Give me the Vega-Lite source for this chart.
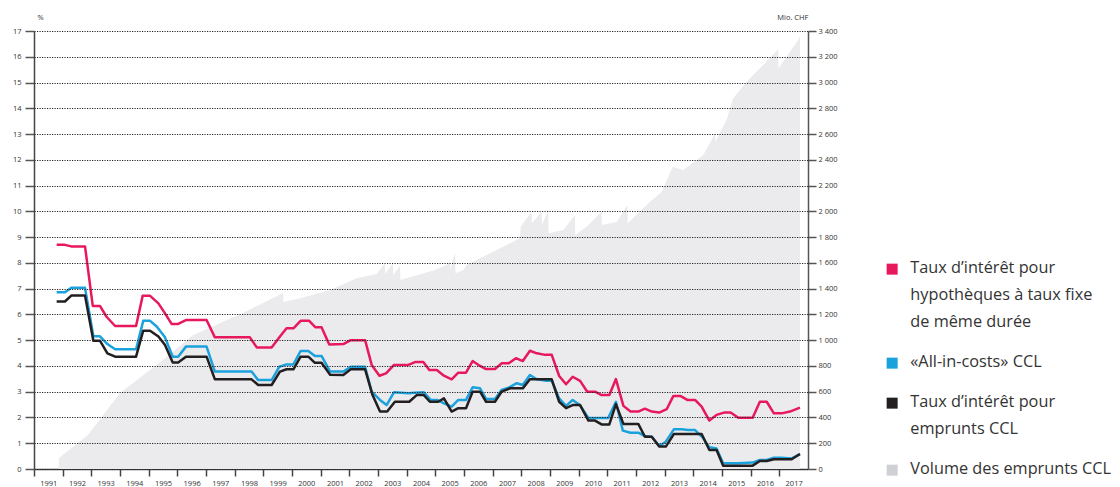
{
  "$schema": "https://vega.github.io/schema/vega-lite/v6.json",
  "width": 774,
  "height": 438,
  "autosize": {"type": "none"},
  "padding": {"left": 34, "top": 31, "right": 312, "bottom": 18},
  "background": "white",
  "config": {
    "view": {"stroke": null},
    "font": "Open Sans",
    "style": {"guide-label": {"lineHeight": 27}}
  },
  "datasets": {
    "vol": [
      {"t": 1991.87, "v": 85}, {"t": 1992.88, "v": 264}, {"t": 1994.0, "v": 590}, {"t": 1995.5, "v": 846},
      {"t": 1996.55, "v": 1040}, {"t": 1998.29, "v": 1211}, {"t": 1999.69, "v": 1366}, {"t": 1999.7, "v": 1297},
      {"t": 2000.28, "v": 1325}, {"t": 2001.33, "v": 1390}, {"t": 2002.26, "v": 1480}, {"t": 2002.95, "v": 1514},
      {"t": 2003.24, "v": 1597}, {"t": 2003.25, "v": 1514}, {"t": 2003.52, "v": 1597}, {"t": 2003.53, "v": 1506},
      {"t": 2003.77, "v": 1576}, {"t": 2003.78, "v": 1467}, {"t": 2004.93, "v": 1540}, {"t": 2005.4, "v": 1584},
      {"t": 2005.51, "v": 1610}, {"t": 2005.52, "v": 1550}, {"t": 2005.69, "v": 1679}, {"t": 2005.7, "v": 1519},
      {"t": 2005.98, "v": 1545}, {"t": 2006.09, "v": 1584}, {"t": 2007.26, "v": 1714}, {"t": 2007.95, "v": 1791},
      {"t": 2007.98, "v": 1881}, {"t": 2008.36, "v": 1998}, {"t": 2008.37, "v": 1908}, {"t": 2008.71, "v": 1998},
      {"t": 2008.72, "v": 1894}, {"t": 2008.94, "v": 2011}, {"t": 2008.95, "v": 1830}, {"t": 2009.47, "v": 1856},
      {"t": 2009.87, "v": 1972}, {"t": 2009.88, "v": 1817}, {"t": 2010.28, "v": 1881}, {"t": 2010.8, "v": 1998},
      {"t": 2010.81, "v": 1894}, {"t": 2011.33, "v": 1920}, {"t": 2011.7, "v": 2050}, {"t": 2011.71, "v": 1908},
      {"t": 2012.49, "v": 2075}, {"t": 2012.9, "v": 2153}, {"t": 2013.28, "v": 2347}, {"t": 2013.65, "v": 2321},
      {"t": 2014.35, "v": 2438}, {"t": 2014.76, "v": 2606}, {"t": 2014.77, "v": 2541}, {"t": 2015.16, "v": 2710},
      {"t": 2015.39, "v": 2878}, {"t": 2015.86, "v": 3007}, {"t": 2016.32, "v": 3111}, {"t": 2016.96, "v": 3258},
      {"t": 2016.97, "v": 3111}, {"t": 2017.66, "v": 3331}, {"t": 2017.72, "v": 3360}
    ],
    "lines": [
      {"s": "hyp", "t": 1991.79, "v": 8.70}, {"s": "hyp", "t": 1992.08, "v": 8.70}, {"s": "hyp", "t": 1992.3, "v": 8.64}, {"s": "hyp", "t": 1992.78, "v": 8.64},
      {"s": "hyp", "t": 1993.05, "v": 6.33}, {"s": "hyp", "t": 1993.3, "v": 6.33}, {"s": "hyp", "t": 1993.53, "v": 5.91}, {"s": "hyp", "t": 1993.83, "v": 5.55},
      {"s": "hyp", "t": 1994.56, "v": 5.55}, {"s": "hyp", "t": 1994.79, "v": 6.72}, {"s": "hyp", "t": 1995.05, "v": 6.72}, {"s": "hyp", "t": 1995.34, "v": 6.43},
      {"s": "hyp", "t": 1995.57, "v": 6.04}, {"s": "hyp", "t": 1995.8, "v": 5.63}, {"s": "hyp", "t": 1996.03, "v": 5.63}, {"s": "hyp", "t": 1996.3, "v": 5.78},
      {"s": "hyp", "t": 1997.02, "v": 5.78}, {"s": "hyp", "t": 1997.31, "v": 5.11}, {"s": "hyp", "t": 1998.53, "v": 5.11}, {"s": "hyp", "t": 1998.77, "v": 4.72},
      {"s": "hyp", "t": 1999.29, "v": 4.72}, {"s": "hyp", "t": 1999.56, "v": 5.11}, {"s": "hyp", "t": 1999.81, "v": 5.46}, {"s": "hyp", "t": 2000.05, "v": 5.46},
      {"s": "hyp", "t": 2000.3, "v": 5.75}, {"s": "hyp", "t": 2000.6, "v": 5.75}, {"s": "hyp", "t": 2000.82, "v": 5.50}, {"s": "hyp", "t": 2001.03, "v": 5.50},
      {"s": "hyp", "t": 2001.3, "v": 4.83}, {"s": "hyp", "t": 2001.79, "v": 4.85}, {"s": "hyp", "t": 2002.05, "v": 5.0}, {"s": "hyp", "t": 2002.55, "v": 5.0},
      {"s": "hyp", "t": 2002.78, "v": 4.04}, {"s": "hyp", "t": 2003.05, "v": 3.62}, {"s": "hyp", "t": 2003.28, "v": 3.71}, {"s": "hyp", "t": 2003.56, "v": 4.04},
      {"s": "hyp", "t": 2004.06, "v": 4.04}, {"s": "hyp", "t": 2004.29, "v": 4.15}, {"s": "hyp", "t": 2004.58, "v": 4.15}, {"s": "hyp", "t": 2004.79, "v": 3.84},
      {"s": "hyp", "t": 2005.05, "v": 3.84}, {"s": "hyp", "t": 2005.3, "v": 3.62}, {"s": "hyp", "t": 2005.57, "v": 3.48}, {"s": "hyp", "t": 2005.8, "v": 3.74},
      {"s": "hyp", "t": 2006.07, "v": 3.74}, {"s": "hyp", "t": 2006.3, "v": 4.19}, {"s": "hyp", "t": 2006.56, "v": 4.0}, {"s": "hyp", "t": 2006.77, "v": 3.88},
      {"s": "hyp", "t": 2007.08, "v": 3.88}, {"s": "hyp", "t": 2007.31, "v": 4.10}, {"s": "hyp", "t": 2007.55, "v": 4.10}, {"s": "hyp", "t": 2007.81, "v": 4.30},
      {"s": "hyp", "t": 2008.05, "v": 4.19}, {"s": "hyp", "t": 2008.3, "v": 4.59}, {"s": "hyp", "t": 2008.54, "v": 4.49}, {"s": "hyp", "t": 2008.83, "v": 4.43},
      {"s": "hyp", "t": 2009.06, "v": 4.43}, {"s": "hyp", "t": 2009.32, "v": 3.61}, {"s": "hyp", "t": 2009.56, "v": 3.29}, {"s": "hyp", "t": 2009.79, "v": 3.58},
      {"s": "hyp", "t": 2010.05, "v": 3.42}, {"s": "hyp", "t": 2010.3, "v": 3.0}, {"s": "hyp", "t": 2010.57, "v": 3.0}, {"s": "hyp", "t": 2010.8, "v": 2.87},
      {"s": "hyp", "t": 2011.07, "v": 2.87}, {"s": "hyp", "t": 2011.3, "v": 3.49}, {"s": "hyp", "t": 2011.56, "v": 2.45}, {"s": "hyp", "t": 2011.81, "v": 2.23},
      {"s": "hyp", "t": 2012.08, "v": 2.23}, {"s": "hyp", "t": 2012.31, "v": 2.34}, {"s": "hyp", "t": 2012.55, "v": 2.23}, {"s": "hyp", "t": 2012.81, "v": 2.19},
      {"s": "hyp", "t": 2013.07, "v": 2.32}, {"s": "hyp", "t": 2013.3, "v": 2.83}, {"s": "hyp", "t": 2013.56, "v": 2.83}, {"s": "hyp", "t": 2013.79, "v": 2.68},
      {"s": "hyp", "t": 2014.06, "v": 2.68}, {"s": "hyp", "t": 2014.29, "v": 2.42}, {"s": "hyp", "t": 2014.56, "v": 1.88}, {"s": "hyp", "t": 2014.81, "v": 2.10},
      {"s": "hyp", "t": 2015.07, "v": 2.19}, {"s": "hyp", "t": 2015.3, "v": 2.19}, {"s": "hyp", "t": 2015.57, "v": 1.99}, {"s": "hyp", "t": 2016.07, "v": 1.99},
      {"s": "hyp", "t": 2016.32, "v": 2.61}, {"s": "hyp", "t": 2016.56, "v": 2.61}, {"s": "hyp", "t": 2016.81, "v": 2.16}, {"s": "hyp", "t": 2017.08, "v": 2.16},
      {"s": "hyp", "t": 2017.37, "v": 2.23}, {"s": "hyp", "t": 2017.72, "v": 2.38},

      {"s": "aic", "t": 1991.79, "v": 6.86}, {"s": "aic", "t": 1992.08, "v": 6.86}, {"s": "aic", "t": 1992.3, "v": 7.03}, {"s": "aic", "t": 1992.78, "v": 7.03},
      {"s": "aic", "t": 1993.07, "v": 5.15}, {"s": "aic", "t": 1993.3, "v": 5.15}, {"s": "aic", "t": 1993.56, "v": 4.85}, {"s": "aic", "t": 1993.83, "v": 4.65},
      {"s": "aic", "t": 1994.56, "v": 4.65}, {"s": "aic", "t": 1994.81, "v": 5.75}, {"s": "aic", "t": 1995.05, "v": 5.75}, {"s": "aic", "t": 1995.28, "v": 5.53},
      {"s": "aic", "t": 1995.57, "v": 5.11}, {"s": "aic", "t": 1995.84, "v": 4.36}, {"s": "aic", "t": 1996.03, "v": 4.36}, {"s": "aic", "t": 1996.3, "v": 4.75},
      {"s": "aic", "t": 1997.02, "v": 4.75}, {"s": "aic", "t": 1997.31, "v": 3.78}, {"s": "aic", "t": 1998.59, "v": 3.78}, {"s": "aic", "t": 1998.82, "v": 3.45},
      {"s": "aic", "t": 1999.29, "v": 3.45}, {"s": "aic", "t": 1999.56, "v": 3.97}, {"s": "aic", "t": 1999.81, "v": 4.06}, {"s": "aic", "t": 2000.05, "v": 4.06},
      {"s": "aic", "t": 2000.3, "v": 4.58}, {"s": "aic", "t": 2000.57, "v": 4.58}, {"s": "aic", "t": 2000.8, "v": 4.39}, {"s": "aic", "t": 2001.03, "v": 4.39},
      {"s": "aic", "t": 2001.33, "v": 3.78}, {"s": "aic", "t": 2001.79, "v": 3.78}, {"s": "aic", "t": 2002.05, "v": 3.97}, {"s": "aic", "t": 2002.55, "v": 3.97},
      {"s": "aic", "t": 2002.78, "v": 3.0}, {"s": "aic", "t": 2003.07, "v": 2.68}, {"s": "aic", "t": 2003.3, "v": 2.48}, {"s": "aic", "t": 2003.56, "v": 2.98},
      {"s": "aic", "t": 2004.06, "v": 2.94}, {"s": "aic", "t": 2004.29, "v": 2.96}, {"s": "aic", "t": 2004.6, "v": 2.98}, {"s": "aic", "t": 2004.84, "v": 2.68},
      {"s": "aic", "t": 2005.07, "v": 2.68}, {"s": "aic", "t": 2005.3, "v": 2.55}, {"s": "aic", "t": 2005.57, "v": 2.42}, {"s": "aic", "t": 2005.8, "v": 2.68},
      {"s": "aic", "t": 2006.07, "v": 2.68}, {"s": "aic", "t": 2006.3, "v": 3.17}, {"s": "aic", "t": 2006.56, "v": 3.13}, {"s": "aic", "t": 2006.77, "v": 2.72},
      {"s": "aic", "t": 2007.08, "v": 2.72}, {"s": "aic", "t": 2007.31, "v": 3.07}, {"s": "aic", "t": 2007.58, "v": 3.17}, {"s": "aic", "t": 2007.84, "v": 3.33},
      {"s": "aic", "t": 2008.05, "v": 3.26}, {"s": "aic", "t": 2008.3, "v": 3.65}, {"s": "aic", "t": 2008.54, "v": 3.48}, {"s": "aic", "t": 2008.83, "v": 3.43},
      {"s": "aic", "t": 2009.06, "v": 3.43}, {"s": "aic", "t": 2009.32, "v": 2.74}, {"s": "aic", "t": 2009.56, "v": 2.45}, {"s": "aic", "t": 2009.79, "v": 2.68},
      {"s": "aic", "t": 2010.05, "v": 2.47}, {"s": "aic", "t": 2010.34, "v": 1.98}, {"s": "aic", "t": 2011.03, "v": 1.98}, {"s": "aic", "t": 2011.3, "v": 2.61},
      {"s": "aic", "t": 2011.54, "v": 1.49}, {"s": "aic", "t": 2011.81, "v": 1.41}, {"s": "aic", "t": 2012.08, "v": 1.41}, {"s": "aic", "t": 2012.31, "v": 1.28},
      {"s": "aic", "t": 2012.55, "v": 1.25}, {"s": "aic", "t": 2012.81, "v": 0.89}, {"s": "aic", "t": 2013.04, "v": 1.06}, {"s": "aic", "t": 2013.32, "v": 1.54},
      {"s": "aic", "t": 2013.59, "v": 1.54}, {"s": "aic", "t": 2013.82, "v": 1.51}, {"s": "aic", "t": 2014.06, "v": 1.51}, {"s": "aic", "t": 2014.32, "v": 1.23},
      {"s": "aic", "t": 2014.56, "v": 0.84}, {"s": "aic", "t": 2014.81, "v": 0.80}, {"s": "aic", "t": 2015.04, "v": 0.22}, {"s": "aic", "t": 2015.57, "v": 0.22},
      {"s": "aic", "t": 2016.07, "v": 0.25}, {"s": "aic", "t": 2016.32, "v": 0.35}, {"s": "aic", "t": 2016.56, "v": 0.35}, {"s": "aic", "t": 2016.81, "v": 0.44},
      {"s": "aic", "t": 2017.08, "v": 0.44}, {"s": "aic", "t": 2017.43, "v": 0.41}, {"s": "aic", "t": 2017.72, "v": 0.58},

      {"s": "ccl", "t": 1991.79, "v": 6.50}, {"s": "ccl", "t": 1992.08, "v": 6.50}, {"s": "ccl", "t": 1992.3, "v": 6.73}, {"s": "ccl", "t": 1992.78, "v": 6.73},
      {"s": "ccl", "t": 1993.07, "v": 4.98}, {"s": "ccl", "t": 1993.3, "v": 4.98}, {"s": "ccl", "t": 1993.56, "v": 4.49}, {"s": "ccl", "t": 1993.83, "v": 4.36},
      {"s": "ccl", "t": 1994.56, "v": 4.36}, {"s": "ccl", "t": 1994.81, "v": 5.37}, {"s": "ccl", "t": 1995.05, "v": 5.37}, {"s": "ccl", "t": 1995.34, "v": 5.14},
      {"s": "ccl", "t": 1995.57, "v": 4.81}, {"s": "ccl", "t": 1995.84, "v": 4.13}, {"s": "ccl", "t": 1996.03, "v": 4.13}, {"s": "ccl", "t": 1996.3, "v": 4.36},
      {"s": "ccl", "t": 1997.02, "v": 4.36}, {"s": "ccl", "t": 1997.31, "v": 3.48}, {"s": "ccl", "t": 1998.59, "v": 3.48}, {"s": "ccl", "t": 1998.82, "v": 3.26},
      {"s": "ccl", "t": 1999.29, "v": 3.26}, {"s": "ccl", "t": 1999.58, "v": 3.78}, {"s": "ccl", "t": 1999.81, "v": 3.87}, {"s": "ccl", "t": 2000.05, "v": 3.87},
      {"s": "ccl", "t": 2000.3, "v": 4.36}, {"s": "ccl", "t": 2000.57, "v": 4.36}, {"s": "ccl", "t": 2000.8, "v": 4.12}, {"s": "ccl", "t": 2001.03, "v": 4.12},
      {"s": "ccl", "t": 2001.33, "v": 3.66}, {"s": "ccl", "t": 2001.79, "v": 3.65}, {"s": "ccl", "t": 2002.05, "v": 3.87}, {"s": "ccl", "t": 2002.55, "v": 3.87},
      {"s": "ccl", "t": 2002.81, "v": 2.87}, {"s": "ccl", "t": 2003.07, "v": 2.23}, {"s": "ccl", "t": 2003.32, "v": 2.23}, {"s": "ccl", "t": 2003.59, "v": 2.61},
      {"s": "ccl", "t": 2004.09, "v": 2.61}, {"s": "ccl", "t": 2004.35, "v": 2.87}, {"s": "ccl", "t": 2004.6, "v": 2.87}, {"s": "ccl", "t": 2004.81, "v": 2.61},
      {"s": "ccl", "t": 2005.1, "v": 2.61}, {"s": "ccl", "t": 2005.3, "v": 2.74}, {"s": "ccl", "t": 2005.57, "v": 2.23}, {"s": "ccl", "t": 2005.8, "v": 2.36},
      {"s": "ccl", "t": 2006.07, "v": 2.36}, {"s": "ccl", "t": 2006.3, "v": 3.0}, {"s": "ccl", "t": 2006.56, "v": 3.0}, {"s": "ccl", "t": 2006.77, "v": 2.61},
      {"s": "ccl", "t": 2007.08, "v": 2.61}, {"s": "ccl", "t": 2007.31, "v": 3.0}, {"s": "ccl", "t": 2007.6, "v": 3.13}, {"s": "ccl", "t": 2008.05, "v": 3.13},
      {"s": "ccl", "t": 2008.3, "v": 3.48}, {"s": "ccl", "t": 2009.06, "v": 3.48}, {"s": "ccl", "t": 2009.32, "v": 2.61}, {"s": "ccl", "t": 2009.56, "v": 2.36},
      {"s": "ccl", "t": 2009.79, "v": 2.48}, {"s": "ccl", "t": 2010.05, "v": 2.48}, {"s": "ccl", "t": 2010.34, "v": 1.88}, {"s": "ccl", "t": 2010.57, "v": 1.88},
      {"s": "ccl", "t": 2010.8, "v": 1.73}, {"s": "ccl", "t": 2011.07, "v": 1.73}, {"s": "ccl", "t": 2011.3, "v": 2.52}, {"s": "ccl", "t": 2011.56, "v": 1.75},
      {"s": "ccl", "t": 2012.08, "v": 1.75}, {"s": "ccl", "t": 2012.31, "v": 1.25}, {"s": "ccl", "t": 2012.55, "v": 1.25}, {"s": "ccl", "t": 2012.81, "v": 0.87},
      {"s": "ccl", "t": 2013.04, "v": 0.87}, {"s": "ccl", "t": 2013.32, "v": 1.36}, {"s": "ccl", "t": 2014.29, "v": 1.36}, {"s": "ccl", "t": 2014.56, "v": 0.74},
      {"s": "ccl", "t": 2014.81, "v": 0.74}, {"s": "ccl", "t": 2015.04, "v": 0.13}, {"s": "ccl", "t": 2016.07, "v": 0.13}, {"s": "ccl", "t": 2016.32, "v": 0.31},
      {"s": "ccl", "t": 2016.56, "v": 0.31}, {"s": "ccl", "t": 2016.81, "v": 0.38}, {"s": "ccl", "t": 2017.43, "v": 0.38}, {"s": "ccl", "t": 2017.72, "v": 0.58}
    ]
  },
  "encoding": {
    "x": {
      "field": "t",
      "type": "quantitative",
      "scale": {"domain": [1991, 2018], "nice": false, "zero": false},
      "axis": {
        "values": [1991, 1992, 1993, 1994, 1995, 1996, 1997, 1998, 1999, 2000, 2001, 2002, 2003, 2004, 2005, 2006, 2007, 2008, 2009, 2010, 2011, 2012, 2013, 2014, 2015, 2016, 2017],
        "format": "d",
        "title": null,
        "grid": false,
        "labelOffset": 14.3,
        "labelFlush": false,
        "labelOverlap": false,
        "tickSize": 7,
        "tickWidth": 1.5,
        "tickColor": "#444",
        "domainColor": "#444",
        "domainWidth": 1.5,
        "labelFontSize": 7.5,
        "labelColor": "#333",
        "labelPadding": 3
      }
    }
  },
  "layer": [
    {
      "data": {"name": "vol"},
      "mark": {"type": "area", "color": "#ebebee", "interpolate": "linear"},
      "encoding": {
        "y": {
          "field": "v",
          "type": "quantitative",
          "scale": {"domain": [0, 3400], "nice": false},
          "axis": {
            "orient": "right",
            "values": [0, 200, 400, 600, 800, 1000, 1200, 1400, 1600, 1800, 2000, 2200, 2400, 2600, 2800, 3000, 3200, 3400],
            "labelExpr": "replace(format(datum.value, ','), ',', ' ')",
            "grid": false,
            "tickSize": 8,
            "tickWidth": 1.5,
            "tickColor": "#555",
            "domainColor": "#555",
            "domainWidth": 1.5,
            "labelFontSize": 7.5,
            "labelColor": "#333",
            "labelPadding": 2,
            "labelOverlap": false,
            "title": "Mio. CHF",
            "titleAngle": 0,
            "titleX": 0,
            "titleY": -14,
            "titleAlign": "right",
            "titleBaseline": "middle",
            "titleFontWeight": "normal",
            "titleFontSize": 7.5,
            "titleColor": "#333"
          }
        }
      }
    },
    {
      "data": {"name": "lines"},
      "mark": {"type": "line", "strokeWidth": 2.5, "strokeJoin": "round"},
      "encoding": {
        "y": {
          "field": "v",
          "type": "quantitative",
          "scale": {"domain": [0, 17], "nice": false},
          "axis": {
            "orient": "left",
            "values": [0, 1, 2, 3, 4, 5, 6, 7, 8, 9, 10, 11, 12, 13, 14, 15, 16, 17],
            "grid": true,
            "gridDash": [1.2, 1.3],
            "gridColor": "#222",
            "gridWidth": 1,
            "zindex": 1,
            "tickSize": 9,
            "tickWidth": 1.5,
            "tickColor": "#555",
            "domainColor": "#444",
            "domainWidth": 1.5,
            "labelFontSize": 7.5,
            "labelColor": "#333",
            "labelPadding": 4,
            "labelOverlap": false,
            "title": "%",
            "titleAngle": 0,
            "titleX": 3,
            "titleY": -14,
            "titleAlign": "left",
            "titleBaseline": "middle",
            "titleFontWeight": "normal",
            "titleFontSize": 7.5,
            "titleColor": "#333"
          }
        },
        "color": {
          "field": "s",
          "type": "nominal",
          "scale": {"domain": ["hyp", "aic", "ccl", "vol"], "range": ["#e8185d", "#1ba1dc", "#231f20", "#cfd0d3"]},
          "legend": {
            "orient": "none",
            "legendX": 850,
            "legendY": 230,
            "title": null,
            "symbolType": "square",
            "symbolSize": 121,
            "symbolStrokeWidth": 0,
            "labelFontSize": 16.3,
            "labelColor": "#333",
            "labelOffset": 10,
            "labelLimit": 400,
            "labelBaseline": "top",
            "rowPadding": 23,
            "labelExpr": "datum.value == 'hyp' ? ['Taux d’intérêt pour', 'hypothèques à taux fixe', 'de même durée'] : datum.value == 'aic' ? '«All-in-costs» CCL' : datum.value == 'ccl' ? ['Taux d’intérêt pour', 'emprunts CCL'] : 'Volume des emprunts CCL'",
            "encode": {
              "symbols": {"update": {"fill": {"scale": "color", "field": "value"}, "stroke": {"value": "transparent"}, "opacity": {"value": 1}}},
              "labels": {"update": {"dy": {"value": -9}}}
            }
          }
        }
      }
    }
  ],
  "resolve": {"scale": {"y": "independent"}}
}
